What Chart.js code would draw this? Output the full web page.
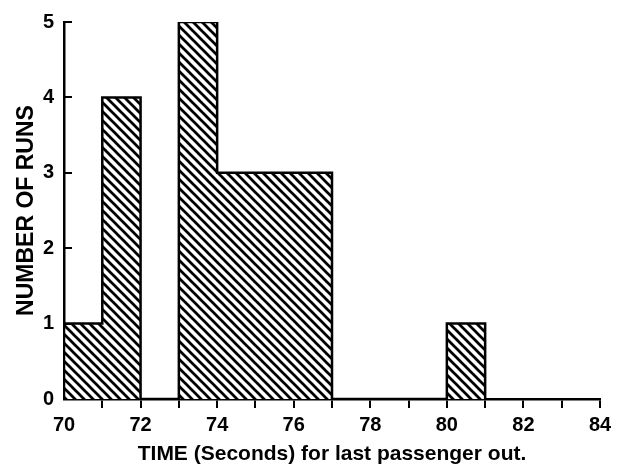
<!DOCTYPE html>
<html><head><meta charset="utf-8">
<script src="https://cdn.jsdelivr.net/npm/chart.js@4/dist/chart.umd.min.js"></script>
<style>html,body{margin:0;padding:0;background:#fff}#wrap{width:619px;height:471px;position:relative}</style>
</head><body><div id="wrap"><canvas id="c"></canvas></div>
<script>
// ---- data ----
const binStarts = [70, 71, 72, 73, 74, 75, 76, 77, 78, 79, 80];
const runCounts = [1, 4, 0, 5, 3, 3, 3, 0, 0, 0, 1];
const binWidth = 1;
const xTickLabels = ['70', '72', '74', '76', '78', '80', '82', '84'];
const yTickLabels = ['0', '1', '2', '3', '4', '5'];
const xTitle = 'TIME (Seconds) for last passenger out.';
const yTitle = 'NUMBER OF RUNS';

// ---- hatch pattern ----
function makeHatch() {
  const s = 9;
  const c = document.createElement('canvas');
  c.width = s; c.height = s;
  const g = c.getContext('2d');
  g.fillStyle = '#fff'; g.fillRect(0, 0, s, s);
  g.strokeStyle = '#000'; g.lineWidth = 2.7;
  for (let k = -1; k <= 1; k++) {
    g.beginPath();
    g.moveTo(-2, -2 + k * s);
    g.lineTo(s + 2, s + 2 + k * s);
    g.stroke();
  }
  return g.createPattern(c, 'repeat');
}
const hatch = makeHatch();

const barData = binStarts.map((b, i) => ({ x: b + binWidth / 2, y: runCounts[i] }));
const outline = [{ x: binStarts[0], y: 0 }];
binStarts.forEach((b, i) => {
  outline.push({ x: b, y: runCounts[i] });
  outline.push({ x: b + binWidth, y: runCounts[i] });
});
outline.push({ x: binStarts[binStarts.length - 1] + binWidth, y: 0 });

const FONT = "'Liberation Sans', Arial, sans-serif";

const yInnerTicks = {
  id: 'yInnerTicks',
  afterDatasetsDraw(chart) {
    const { ctx, chartArea, scales: { y } } = chart;
    ctx.save();
    ctx.strokeStyle = '#000';
    ctx.lineWidth = 2;
    y.ticks.forEach(t => {
      if (t.value === 0) return;
      const py = Math.round(y.getPixelForValue(t.value));
      ctx.beginPath();
      ctx.moveTo(chartArea.left, py);
      ctx.lineTo(chartArea.left + 8, py);
      ctx.stroke();
    });
    ctx.restore();
  }
};

new Chart(document.getElementById('c'), {
  type: 'bar',
  data: {
    datasets: [
      {
        type: 'line',
        data: outline,
        borderColor: '#000',
        borderWidth: 2.5,
        borderJoinStyle: 'miter',
        pointRadius: 0,
        fill: false,
        tension: 0,
        order: 0
      },
      {
        type: 'bar',
        data: barData,
        backgroundColor: hatch,
        borderWidth: 0,
        barPercentage: 1,
        categoryPercentage: 1,
        order: 1
      }
    ]
  },
  options: {
    responsive: true,
    maintainAspectRatio: false,
    animation: false,
    devicePixelRatio: 1,
    layout: { padding: { left: 0, right: 19, top: 14, bottom: 0 } },
    plugins: { legend: { display: false }, tooltip: { enabled: false } },
    scales: {
      x: {
        type: 'linear',
        min: 70, max: 84,
        offset: false,
        afterFit(s) { s.height = 72; },
        grid: {
          offset: false,
          drawOnChartArea: false,
          drawTicks: true,
          tickLength: 9,
          lineWidth: 2,
          color: ctx => (ctx.tick && ctx.tick.value === 70) ? 'rgba(0,0,0,0)' : '#000'
        },
        border: { display: true, color: '#000', width: 2.5 },
        ticks: {
          stepSize: 1,
          autoSkip: false,
          maxRotation: 0,
          padding: 5,
          color: '#000',
          font: { family: FONT, size: 20, weight: 'bold' },
          callback: v => xTickLabels.includes(String(v)) ? String(v) : ''
        },
        title: {
          display: true,
          text: xTitle,
          color: '#000',
          font: { family: FONT, size: 21, weight: 'bold' },
          padding: { top: 0, bottom: 4 }
        }
      },
      y: {
        min: 0, max: 5,
        afterFit(s) { s.width = 64; },
        grid: { display: false, drawTicks: false },
        border: { display: true, color: '#000', width: 2.5 },
        ticks: {
          stepSize: 1,
          padding: 10,
          color: '#000',
          font: { family: FONT, size: 20, weight: 'bold' },
          callback: v => yTickLabels[v] !== undefined ? yTickLabels[v] : ''
        },
        title: {
          display: true,
          text: yTitle,
          color: '#000',
          font: { family: FONT, size: 23, weight: 'bold' },
          padding: { top: 13, bottom: 0 }
        }
      }
    }
  },
  plugins: [yInnerTicks]
});
</script>
</body></html>
